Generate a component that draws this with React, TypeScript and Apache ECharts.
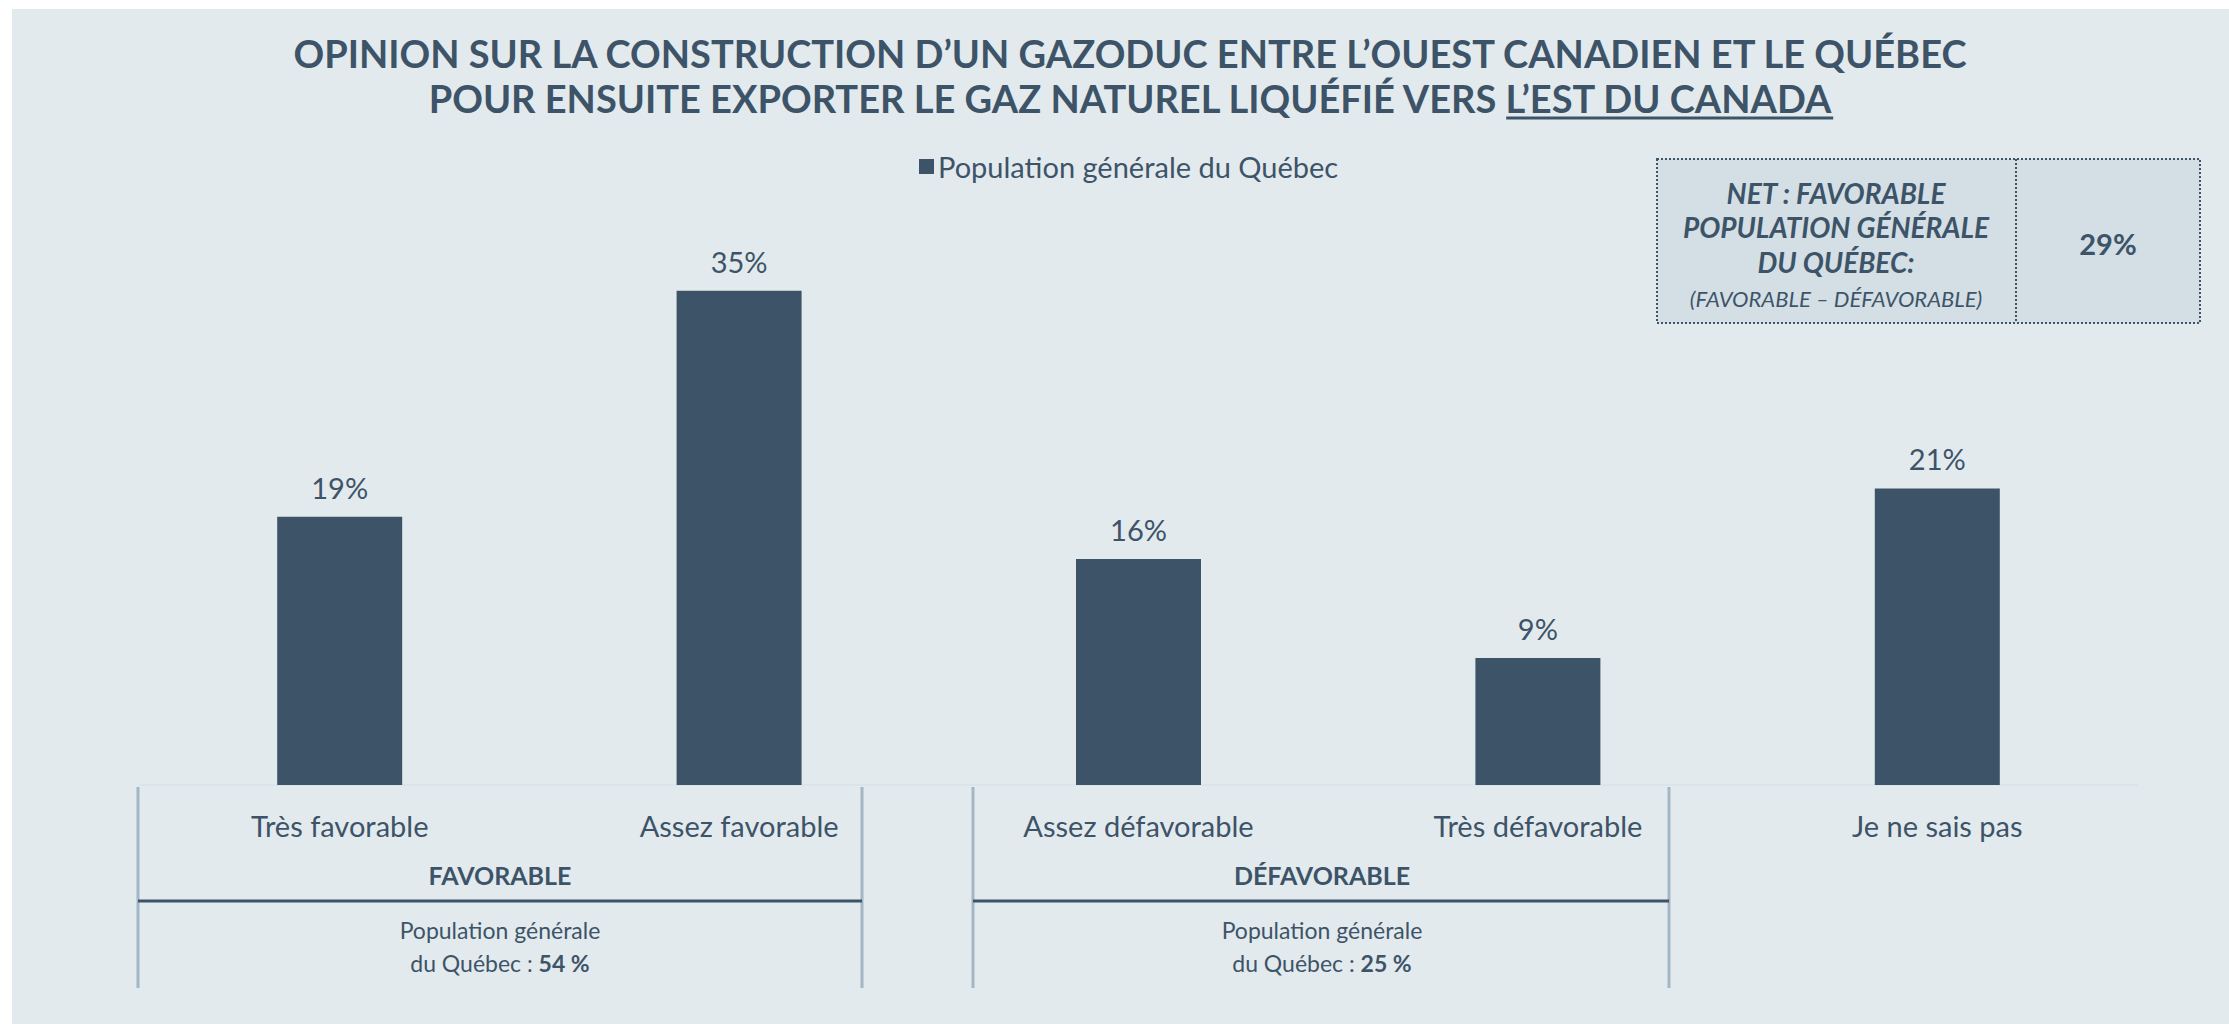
import React, { useEffect, useRef } from "react";
import * as echarts from "echarts";

const categories = ["Très favorable", "Assez favorable", "Assez défavorable", "Très défavorable", "Je ne sais pas"];
const values = [19, 35, 16, 9, 21];
const seriesName = "Population générale du Québec";
const titleLine1 = "OPINION SUR LA CONSTRUCTION D’UN GAZODUC ENTRE L’OUEST CANADIEN ET LE QUÉBEC";
const titleLine2a = "POUR ENSUITE EXPORTER LE GAZ NATUREL LIQUÉFIÉ VERS ";
const titleLine2b = "L’EST DU CANADA";
const netLines = ["NET : FAVORABLE", "POPULATION GÉNÉRALE", "DU QUÉBEC:"];
const netSub = "(FAVORABLE – DÉFAVORABLE)";
const netValue = "29%";
const groupNames = ["FAVORABLE", "DÉFAVORABLE"];
const groupTotals = ["54 %", "25 %"];

const DARK = "#3D5468";
const FONT = "Lato";

function measure(text: string, font: string): number {
  const c = document.createElement("canvas").getContext("2d");
  if (!c) return text.length * 20;
  c.font = font;
  return c.measureText(text).width;
}

export default function App() {
  const ref = useRef<HTMLDivElement>(null);
  useEffect(() => {
    if (!ref.current) return;
    const chart = echarts.init(ref.current, null, { renderer: "svg" });
    const titleSize = 38;
    const titleFont = `bold ${titleSize}px ${FONT}`;
    const cx = 1130;
    const wFull = measure(titleLine2a + titleLine2b, titleFont);
    const wB = measure(titleLine2b, titleFont);
    const ulRight = cx + wFull / 2;
    const ulLeft = ulRight - wB;

    const txt = (x: number, y: number, text: string, size: number, extra: any = {}) => ({
      type: "text",
      x,
      y,
      z: 10,
      style: {
        text,
        fontSize: size,
        fontFamily: FONT,
        fill: DARK,
        align: "center",
        verticalAlign: "middle",
        ...extra,
      },
    });
    const ln = (x1: number, y1: number, x2: number, y2: number, stroke: string, w: number, dash?: number[]) => ({
      type: "line",
      z: 10,
      shape: { x1, y1, x2, y2 },
      style: { stroke, lineWidth: w, lineDash: dash },
    });

    const brackets = [
      { l: 138, r: 862, c: 500 },
      { l: 973, r: 1669, c: 1322 },
    ];
    const bracketEls: any[] = [];
    brackets.forEach((b, i) => {
      bracketEls.push(ln(b.l, 787, b.l, 988, "#A3B6C4", 3));
      bracketEls.push(ln(b.r, 787, b.r, 988, "#A3B6C4", 3));
      bracketEls.push(ln(b.l, 901, b.r, 901, DARK, 3));
      bracketEls.push(txt(b.c, 875, groupNames[i], 25, { fontWeight: "bold" }));
      bracketEls.push(txt(b.c, 930, "Population générale", 23));
      bracketEls.push(
        txt(b.c, 963, `du Québec : {b|${groupTotals[i]}}`, 23, {
          rich: { b: { fontSize: 23, fontWeight: "bold", fontFamily: FONT, fill: DARK } },
        })
      );
    });

    const option: any = {
      animation: false,
      backgroundColor: "transparent",
      textStyle: { fontFamily: FONT },
      legend: {
        data: [seriesName],
        left: 919,
        top: 152,
        padding: 0,
        icon: "rect",
        itemWidth: 15,
        itemHeight: 15,
        itemGap: 10,
        textStyle: { fontSize: 29, color: DARK, fontFamily: FONT, padding: [0, 0, 0, -1] },
      },
      grid: { left: 140, right: 92, top: 220, bottom: 239 },
      xAxis: {
        type: "category",
        data: categories,
        axisTick: { show: false },
        axisLine: { show: true, lineStyle: { color: "#DCE4E9", width: 2 } },
        axisLabel: { color: DARK, fontSize: 29, fontFamily: FONT, margin: 26, interval: 0 },
      },
      yAxis: { type: "value", min: 0, max: 40, show: false, splitLine: { show: false } },
      series: [
        {
          name: seriesName,
          type: "bar",
          data: values,
          barWidth: 125,
          itemStyle: { color: DARK },
          label: {
            show: true,
            position: "top",
            distance: 15,
            formatter: "{c}%",
            color: DARK,
            fontSize: 29,
            fontFamily: FONT,
          },
        },
      ],
      graphic: [
        { type: "rect", z: -10, shape: { x: 12, y: 9, width: 2217, height: 1015 }, style: { fill: "#E3EAEE" } },
        txt(cx, 53, titleLine1, titleSize, { fontWeight: "bold" }),
        txt(cx, 98, titleLine2a + titleLine2b, titleSize, { fontWeight: "bold" }),
        ln(ulLeft, 118, ulRight, 118, DARK, 3),
        {
          type: "rect",
          z: 5,
          shape: { x: 1657, y: 159, width: 543, height: 164 },
          style: { fill: "#D3DEE5", stroke: DARK, lineWidth: 2, lineDash: [2, 2] },
        },
        ln(2016, 159, 2016, 323, DARK, 2, [2, 2]),
        txt(1836, 193, netLines[0], 28, { fontWeight: "bold", fontStyle: "italic" }),
        txt(1836, 227, netLines[1], 28, { fontWeight: "bold", fontStyle: "italic" }),
        txt(1836, 262, netLines[2], 28, { fontWeight: "bold", fontStyle: "italic" }),
        txt(1836, 298, netSub, 22, { fontStyle: "italic" }),
        txt(2108, 243, netValue, 29, { fontWeight: "bold" }),
        ...bracketEls,
      ],
    };
    chart.setOption(option);
    return () => chart.dispose();
  }, []);
  return (
    <div
      ref={ref}
      style={{ position: "absolute", left: 0, top: 0, width: 2229, height: 1024, background: "#FFFFFF" }}
    />
  );
}
